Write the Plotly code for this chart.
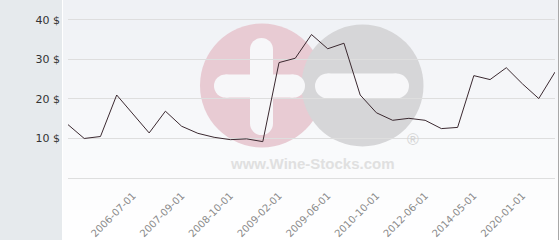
import plotly.graph_objects as go

# ---- data ----
dates = [
    "2005-07-01", "2005-10-01", "2006-02-01", "2006-04-01", "2006-07-01",
    "2006-12-01", "2007-04-01", "2007-09-01", "2008-01-01", "2008-06-01",
    "2008-10-01", "2008-11-01", "2009-01-01", "2009-02-01", "2009-03-01",
    "2009-05-01", "2009-06-01", "2009-10-01", "2010-04-01", "2010-10-01",
    "2011-06-01", "2011-12-01", "2012-06-01", "2013-01-01", "2013-09-01",
    "2014-05-01", "2016-01-01", "2018-01-01", "2020-01-01", "2021-01-01",
    "2022-01-01",
]
prices = [
    13.5, 10.0, 10.5, 21.0, 16.2, 11.4, 16.9, 13.1, 11.3, 10.3,
    9.7, 9.9, 9.2, 29.2, 30.3, 36.3, 32.7, 34.1, 21.0, 16.5,
    14.6, 15.1, 14.6, 12.5, 12.8, 25.9, 24.9, 27.9, 23.8, 20.1,
    26.8,
]
x_tick_labels = dates[4::3]
y_tick_values = [10, 20, 30, 40]
y_tick_labels = ["10 $", "20 $", "30 $", "40 $"]

# ---- geometry helpers (pixel -> paper) ----
W, H = 560, 240
ML, MR, MT, MB = 68, 5, 12, 62
PW, PH = W - ML - MR, H - MT - MB


def px(x):
    return (x - ML) / PW


def py(y):
    return (H - MB - y) / PH


shapes = []
# gradient background of the chart area
n = 24
for i in range(n):
    t = i / (n - 1)
    r = int(round(239 + (255 - 239) * t))
    g = int(round(241 + (255 - 241) * t))
    b = int(round(245 + (255 - 245) * t))
    shapes.append(dict(type="rect", xref="paper", yref="paper",
                       x0=px(63), x1=px(558), y0=py(i * 10), y1=py(i * 10 + 10),
                       fillcolor=f"rgb({r},{g},{b})", line_width=0, layer="below"))
# left grey panel
shapes.append(dict(type="rect", xref="paper", yref="paper",
                   x0=px(0), x1=px(62), y0=py(0), y1=py(240),
                   fillcolor="#e6eaed", line_width=0, layer="below"))
# right border
shapes.append(dict(type="line", xref="paper", yref="paper",
                   x0=px(558.5), x1=px(558.5), y0=py(0), y1=py(240),
                   line=dict(color="#a8a8a8", width=1), layer="below"))


def circle(cx, cy, r, color):
    shapes.append(dict(type="circle", xref="paper", yref="paper",
                       x0=px(cx - r), x1=px(cx + r), y0=py(cy + r), y1=py(cy - r),
                       fillcolor=color, line_width=0, layer="below"))


def rect(x0, y0, x1, y1, color):
    shapes.append(dict(type="rect", xref="paper", yref="paper",
                       x0=px(x0), x1=px(x1), y0=py(y1), y1=py(y0),
                       fillcolor=color, line_width=0, layer="below"))


def hbar(x0, x1, cy, h, color):
    r = h / 2
    rect(x0 + r, cy - r, x1 - r, cy + r, color)
    circle(x0 + r, cy, r, color)
    circle(x1 - r, cy, r, color)


def vbar(cx, y0, y1, w, color):
    r = w / 2
    rect(cx - r, y0 + r, cx + r, y1 - r, color)
    circle(cx, y0 + r, r, color)
    circle(cx, y1 - r, r, color)


# watermark
circle(262, 85.5, 62, "#e8cbd3")
circle(362.5, 85.5, 61, "#d6d6d8")
WB = "#f7f7f9"
vbar(261.5, 38, 135, 23, WB)
hbar(214, 305, 86, 23, WB)
hbar(315, 409, 86, 25, WB)

fig = go.Figure()
fig.add_trace(go.Scatter(
    x=dates, y=prices, mode="lines",
    line=dict(color="#3b2930", width=1),
    hoverinfo="x+y", showlegend=False,
))

fig.update_layout(
    width=W, height=H,
    margin=dict(l=ML, r=MR, t=MT, b=MB, pad=0, autoexpand=False),
    paper_bgcolor="white",
    plot_bgcolor="rgba(0,0,0,0)",
    shapes=shapes,
    showlegend=False,
    annotations=[
        dict(text="<b>www.Wine-Stocks.com</b>", xref="paper", yref="paper",
             x=px(312), y=py(163), xanchor="center", yanchor="middle",
             showarrow=False,
             font=dict(family="Liberation Sans, Arial", size=15, color="#e0e0e0")),
        dict(text="®", xref="paper", yref="paper",
             x=px(413), y=py(139), xanchor="center", yanchor="middle",
             showarrow=False,
             font=dict(family="Liberation Sans, Arial", size=16, color="#d4d4d4")),
    ],
)
fig.update_xaxes(
    type="category", range=[0, len(dates) - 1], automargin=False,
    showgrid=False, zeroline=False, showline=False,
    tickmode="array", tickvals=x_tick_labels, ticktext=x_tick_labels,
    tickangle=-45, ticks="", ticklabelstandoff=9,
    tickfont=dict(family="DejaVu Sans", size=10, color="#8a8a8a"),
)
fig.update_yaxes(
    range=[0, 42], automargin=False, showgrid=True, gridcolor="#dedede", gridwidth=1,
    zeroline=True, zerolinecolor="#dedede", zerolinewidth=1, showline=False,
    tickmode="array", tickvals=y_tick_values, ticktext=y_tick_labels,
    ticks="", ticklabelstandoff=7,
    tickfont=dict(family="DejaVu Sans", size=11, color="#333333"),
)

fig.write_html("out.html")
